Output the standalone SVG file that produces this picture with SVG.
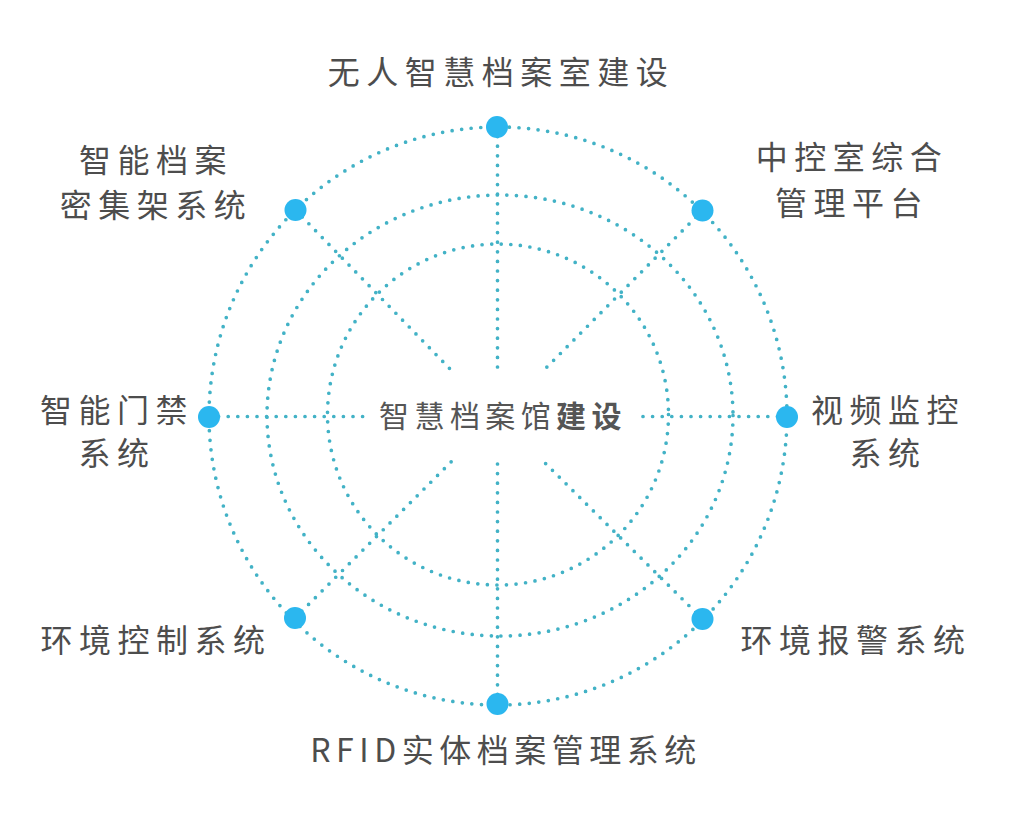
<svg xmlns="http://www.w3.org/2000/svg" width="1020" height="825" viewBox="0 0 1020 825">
<style>
.ring{fill:none;stroke:#42b2c6;stroke-width:3.7;stroke-linecap:round;stroke-dasharray:0 9.6}
.spoke{stroke:#42b2c6;stroke-width:3.7;stroke-linecap:round;stroke-dasharray:0 9.6}
.dot{fill:#2bb7ef}
.lbl{font-family:"Noto Sans CJK SC","Noto Sans",sans-serif;font-size:32px;fill:#4d4d4d;letter-spacing:6.5px;text-anchor:middle}
.ctr{font-family:"Noto Sans CJK SC","Noto Sans",sans-serif;font-size:30px;fill:#555;letter-spacing:5.4px;text-anchor:middle}
</style>
<rect width="1020" height="825" fill="#fff"/>
<g id="rings">
<ellipse class="ring" cx="498" cy="416" rx="289" ry="289"/>
<ellipse class="ring" cx="500" cy="415.5" rx="233" ry="220.5"/>
<ellipse class="ring" cx="498" cy="414.5" rx="170.5" ry="170.5"/>
</g>
<g id="connectors">
<line class="spoke" x1="497.5" y1="127" x2="497.5" y2="372"/>
<line class="spoke" x1="497.5" y1="704" x2="497.5" y2="458"/>
<line class="spoke" x1="209" y1="416.5" x2="365" y2="416.5"/>
<line class="spoke" x1="787" y1="416.5" x2="639" y2="416.5"/>
<line class="spoke" x1="295.5" y1="210" x2="453" y2="372"/>
<line class="spoke" x1="702.5" y1="210.5" x2="542" y2="372"/>
<line class="spoke" x1="295" y1="618" x2="453" y2="460"/>
<line class="spoke" x1="702.5" y1="619" x2="542" y2="460"/>
</g>
<g id="center">
<text class="ctr" x="503" y="427">智慧档案馆<tspan font-weight="bold">建设</tspan></text>
</g>
<g id="n-top">
<circle class="dot" cx="497" cy="127" r="11"/>
<text class="lbl" x="501" y="84">无人智慧档案室建设</text>
</g>
<g id="n-ne">
<circle class="dot" cx="702.5" cy="210.5" r="11"/>
<text class="lbl" x="852" y="169">中控室综合</text>
<text class="lbl" x="852" y="215">管理平台</text>
</g>
<g id="n-e">
<circle class="dot" cx="787" cy="417" r="11"/>
<text class="lbl" x="888" y="422">视频监控</text>
<text class="lbl" x="888" y="465">系统</text>
</g>
<g id="n-se">
<circle class="dot" cx="702.5" cy="619" r="11"/>
<text class="lbl" x="856" y="652">环境报警系统</text>
</g>
<g id="n-s">
<circle class="dot" cx="497.5" cy="704" r="11"/>
<text class="lbl" x="506" y="762" style="letter-spacing:5.5px">RFID实体档案管理系统</text>
</g>
<g id="n-sw">
<circle class="dot" cx="295" cy="618" r="11"/>
<text class="lbl" x="156" y="652">环境控制系统</text>
</g>
<g id="n-w">
<circle class="dot" cx="209" cy="417" r="11"/>
<text class="lbl" x="117" y="422">智能门禁</text>
<text class="lbl" x="117" y="465">系统</text>
</g>
<g id="n-nw">
<circle class="dot" cx="295.5" cy="210" r="11"/>
<text class="lbl" x="156" y="172">智能档案</text>
<text class="lbl" x="156" y="217">密集架系统</text>
</g>
</svg>
